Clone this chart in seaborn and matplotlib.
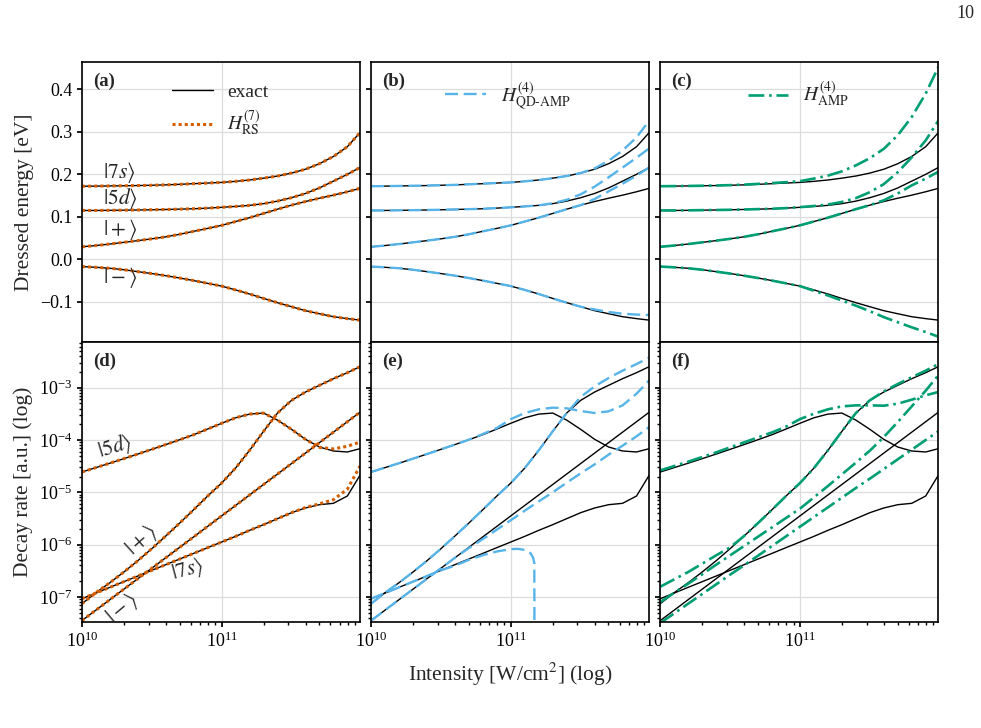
import numpy as np
import pandas as pd
import matplotlib
matplotlib.use("Agg")
import matplotlib.pyplot as plt
from matplotlib.lines import Line2D
import seaborn as sns

# ---------------- data ----------------
# log10 of intensity [W/cm^2]
LOGI = [10.0, 10.1, 10.2, 10.3, 10.4, 10.5, 10.6, 10.7, 10.8, 10.9, 11.0,
        11.1, 11.2, 11.3, 11.4, 11.5, 11.6, 11.7, 11.8, 11.9, 11.99]

# Dressed energies [eV] -- exact
E_7S = [0.172, 0.1723, 0.1727, 0.1731, 0.1736, 0.1743, 0.1752, 0.1765, 0.178, 0.1795, 0.181,
        0.1835, 0.1867, 0.191, 0.196, 0.203, 0.212, 0.225, 0.242, 0.265, 0.298]
E_5D = [0.115, 0.115, 0.1153, 0.1157, 0.1161, 0.1166, 0.1173, 0.1181, 0.119, 0.1205, 0.1224,
        0.1245, 0.127, 0.131, 0.137, 0.145, 0.155, 0.168, 0.184, 0.200, 0.216]
E_PLUS = [0.0295, 0.0325, 0.036, 0.040, 0.044, 0.0483, 0.053, 0.059, 0.066, 0.0728, 0.080,
          0.089, 0.098, 0.108, 0.118, 0.1275, 0.136, 0.1438, 0.151, 0.159, 0.167]
E_MINUS = [-0.017, -0.0188, -0.021, -0.0245, -0.029, -0.0335, -0.0385, -0.044, -0.050, -0.0565, -0.063,
           -0.072, -0.0816, -0.092, -0.102, -0.1115, -0.1208, -0.128, -0.135, -0.1395, -0.143]

# H_RS^(7) (coincides with exact in energy)
RS_E_7S = list(E_7S)
RS_E_5D = list(E_5D)
RS_E_PLUS = list(E_PLUS)
RS_E_MINUS = list(E_MINUS)

# H_QD-AMP^(4)
QD_E_7S = [0.172, 0.1723, 0.1727, 0.1731, 0.1736, 0.1743, 0.1752, 0.1765, 0.178, 0.1795, 0.181,
           0.1835, 0.1867, 0.191, 0.196, 0.203, 0.214, 0.232, 0.256, 0.287, 0.326]
QD_E_5D = [0.115, 0.115, 0.1153, 0.1157, 0.1161, 0.1166, 0.1173, 0.1181, 0.119, 0.1205, 0.1224,
           0.1245, 0.127, 0.132, 0.140, 0.153, 0.171, 0.193, 0.216, 0.239, 0.261]
QD_E_PLUS = [0.0295, 0.0325, 0.036, 0.040, 0.044, 0.0483, 0.053, 0.059, 0.066, 0.0728, 0.080,
             0.089, 0.098, 0.108, 0.118, 0.1275, 0.142, 0.160, 0.178, 0.197, 0.216]
QD_E_MINUS = [-0.017, -0.0188, -0.021, -0.0245, -0.029, -0.0335, -0.0385, -0.044, -0.050, -0.0565, -0.063,
              -0.072, -0.0816, -0.092, -0.102, -0.1115, -0.118, -0.124, -0.128, -0.130, -0.131]

# H_AMP^(4)
AMP_E_7S = [0.172, 0.1723, 0.1727, 0.1731, 0.1737, 0.1746, 0.1758, 0.1775, 0.1795, 0.1815, 0.184,
            0.190, 0.197, 0.207, 0.221, 0.238, 0.260, 0.292, 0.335, 0.390, 0.452]
AMP_E_5D = [0.115, 0.115, 0.1153, 0.1157, 0.1161, 0.1166, 0.1173, 0.1181, 0.119, 0.1205, 0.1228,
            0.1255, 0.129, 0.135, 0.144, 0.158, 0.177, 0.205, 0.240, 0.280, 0.326]
AMP_E_PLUS = [0.0295, 0.0325, 0.036, 0.040, 0.044, 0.0483, 0.053, 0.059, 0.066, 0.0728, 0.080,
              0.089, 0.098, 0.108, 0.118, 0.1275, 0.139, 0.155, 0.174, 0.190, 0.206]
AMP_E_MINUS = [-0.017, -0.0188, -0.021, -0.0245, -0.029, -0.0335, -0.0385, -0.044, -0.050, -0.0565, -0.063,
               -0.074, -0.085, -0.097, -0.109, -0.122, -0.136, -0.148, -0.160, -0.171, -0.182]

# Decay rates, log10 [a.u.] -- exact
G_5D = [-4.611, -4.527, -4.443, -4.356, -4.268, -4.178, -4.087, -3.994, -3.898, -3.79, -3.68,
        -3.575, -3.505, -3.485, -3.62, -3.796, -3.987, -4.134, -4.21, -4.229, -4.166]
G_PLUS = [-7.127, -6.917, -6.726, -6.522, -6.306, -6.076, -5.834, -5.586, -5.331, -5.07, -4.822,
          -4.535, -4.197, -3.834, -3.484, -3.242, -3.083, -2.955, -2.828, -2.713, -2.599]
G_MINUS = [-7.45, -7.25, -7.05, -6.85, -6.65, -6.45, -6.25, -6.05, -5.85, -5.65, -5.45,
           -5.25, -5.05, -4.85, -4.65, -4.45, -4.25, -4.05, -3.85, -3.65, -3.47]
G_7S = [-7.032, -6.924, -6.815, -6.707, -6.599, -6.49, -6.382, -6.274, -6.166, -6.057, -5.949,
        -5.841, -5.726, -5.618, -5.503, -5.389, -5.299, -5.236, -5.21, -5.07, -4.675]

# H_RS^(7)
RS_G_5D = [-4.611, -4.527, -4.443, -4.356, -4.268, -4.178, -4.087, -3.994, -3.898, -3.79, -3.68,
           -3.575, -3.505, -3.485, -3.62, -3.796, -3.987, -4.14, -4.17, -4.12, -4.04]
RS_G_PLUS = list(G_PLUS)
RS_G_MINUS = list(G_MINUS)
RS_G_7S = [-7.032, -6.924, -6.815, -6.707, -6.599, -6.49, -6.382, -6.274, -6.166, -6.057, -5.949,
           -5.841, -5.726, -5.618, -5.503, -5.389, -5.29, -5.22, -5.14, -4.94, -4.50]

# H_QD-AMP^(4)
QD_G_5D = [-4.611, -4.527, -4.443, -4.356, -4.268, -4.178, -4.087, -3.994, -3.885, -3.771, -3.60,
           -3.484, -3.414, -3.382, -3.395, -3.446, -3.484, -3.452, -3.338, -3.115, -2.86]
QD_G_PLUS = [-7.127, -6.917, -6.726, -6.522, -6.306, -6.076, -5.834, -5.586, -5.331, -5.07, -4.822,
             -4.535, -4.197, -3.834, -3.484, -3.178, -2.975, -2.815, -2.675, -2.548, -2.427]
QD_G_MINUS = [-7.45, -7.25, -7.05, -6.85, -6.65, -6.45, -6.25, -6.064, -5.892, -5.713, -5.532,
              -5.35, -5.172, -5.0, -4.815, -4.637, -4.465, -4.28, -4.108, -3.93, -3.752]
QD_7S_LOGI = [10.0, 10.1, 10.2, 10.3, 10.4, 10.5, 10.6, 10.7, 10.8, 10.9, 11.0,
              11.05, 11.1, 11.14, 11.16, 11.168, 11.17]
QD_G_7S = [-7.032, -6.924, -6.815, -6.707, -6.599, -6.49, -6.40, -6.29, -6.20, -6.13, -6.085,
           -6.08, -6.10, -6.16, -6.25, -6.35, -9.0]

# H_AMP^(4)
AMP_G_5D = [-4.58, -4.497, -4.414, -4.325, -4.236, -4.14, -4.045, -3.949, -3.854, -3.745, -3.60,
            -3.497, -3.414, -3.357, -3.338, -3.338, -3.344, -3.306, -3.229, -3.146, -3.083]
AMP_G_PLUS = [-6.803, -6.662, -6.522, -6.363, -6.204, -6.051, -5.834, -5.586, -5.331, -5.07, -4.822,
              -4.535, -4.197, -3.834, -3.484, -3.242, -3.07, -2.93, -2.80, -2.675, -2.548]
AMP_G_7S = [-7.096, -6.917, -6.745, -6.567, -6.382, -6.204, -6.025, -5.847, -5.669, -5.49, -5.312,
            -5.096, -4.879, -4.656, -4.433, -4.204, -3.943, -3.656, -3.357, -3.057, -2.764]
AMP_G_MINUS = [-7.497, -7.312, -7.127, -6.943, -6.758, -6.573, -6.395, -6.21, -6.025, -5.841, -5.656,
               -5.471, -5.287, -5.102, -4.917, -4.739, -4.554, -4.369, -4.185, -4.0, -3.834]

PANEL_LABELS = ["(a)", "(b)", "(c)", "(d)", "(e)", "(f)"]
LEGEND_LABELS = ["exact", r"$H_{\mathrm{RS}}^{(7)}$",
                 r"$H_{\mathrm{QD\text{-}AMP}}^{(4)}$", r"$H_{\mathrm{AMP}}^{(4)}$"]

# ---------------- style ----------------
sns.set_theme(style="ticks")
plt.rcParams["font.family"] = ["Liberation Serif", "DejaVu Serif"]
plt.rcParams["mathtext.fontset"] = "stix"
plt.rcParams.update({
    "axes.linewidth": 1.2,
    "axes.edgecolor": "black",
    "xtick.direction": "out",
    "ytick.direction": "out",
    "xtick.major.size": 3.5,
    "ytick.major.size": 3.5,
    "xtick.minor.size": 2.0,
    "ytick.minor.size": 2.0,
    "xtick.color": "black",
    "ytick.color": "black",
    "xtick.labelsize": 13,
    "ytick.labelsize": 13,
    "axes.unicode_minus": True,
})

C_EXACT = "black"
C_RS = "#D55E00"
C_QD = "#56B4E9"
C_AMP = "#009E73"
LS_RS = (0, (1.0, 1.0))
LS_QD = (0, (5.5, 2.4))
LS_AMP = (0, (6.0, 1.8, 1.0, 1.8))

fig = plt.figure(figsize=(9.81, 7.28), dpi=100)
gs = fig.add_gridspec(2, 3, left=82 / 981, right=938 / 981, top=1 - 62 / 728,
                      bottom=1 - 622 / 728, hspace=0.0, wspace=0.0414)
axes = [[fig.add_subplot(gs[r, c]) for c in range(3)] for r in range(2)]

XMIN, XMAX = 1e10, 10 ** 11.988


def draw(ax, logi, vals, color, ls, lw, log=False):
    x = 10.0 ** np.asarray(logi, dtype=float)
    v = np.asarray(vals, dtype=float)
    y = 10.0 ** v if log else v
    df = pd.DataFrame({"I": x, "v": y})
    sns.lineplot(data=df, x="I", y="v", ax=ax, color=color, linestyle=ls,
                 linewidth=lw, sort=False, estimator=None, legend=False)


exact_E = [E_7S, E_5D, E_PLUS, E_MINUS]
exact_G = [G_7S, G_5D, G_PLUS, G_MINUS]
approx_E = [
    ([RS_E_7S, RS_E_5D, RS_E_PLUS, RS_E_MINUS], C_RS, LS_RS, 2.2),
    ([QD_E_7S, QD_E_5D, QD_E_PLUS, QD_E_MINUS], C_QD, LS_QD, 1.7),
    ([AMP_E_7S, AMP_E_5D, AMP_E_PLUS, AMP_E_MINUS], C_AMP, LS_AMP, 1.9),
]
approx_G = [
    ([(LOGI, RS_G_7S), (LOGI, RS_G_5D), (LOGI, RS_G_PLUS), (LOGI, RS_G_MINUS)], C_RS, LS_RS, 2.2),
    ([(QD_7S_LOGI, QD_G_7S), (LOGI, QD_G_5D), (LOGI, QD_G_PLUS), (LOGI, QD_G_MINUS)], C_QD, LS_QD, 1.7),
    ([(LOGI, AMP_G_7S), (LOGI, AMP_G_5D), (LOGI, AMP_G_PLUS), (LOGI, AMP_G_MINUS)], C_AMP, LS_AMP, 1.9),
]

for c in range(3):
    axt = axes[0][c]
    axb = axes[1][c]
    axt.set_xscale("log")
    axb.set_xscale("log")
    axb.set_yscale("log")
    for ser in exact_E:
        draw(axt, LOGI, ser, C_EXACT, "-", 1.0)
    sers, col, ls, lw = approx_E[c]
    for ser in sers:
        draw(axt, LOGI, ser, col, ls, lw)
    for ser in exact_G:
        draw(axb, LOGI, ser, C_EXACT, "-", 1.0, log=True)
    sers, col, ls, lw = approx_G[c]
    for lg, ser in sers:
        draw(axb, lg, ser, col, ls, lw, log=True)

for r in range(2):
    for c in range(3):
        ax = axes[r][c]
        ax.set_xlim(XMIN, XMAX)
        ax.set_xlabel("")
        ax.set_ylabel("")
        ax.grid(True, which="major", color="#dcdcdc", linewidth=0.9)
        ax.set_axisbelow(True)
        for s in ax.spines.values():
            s.set_visible(True)
            s.set_color("black")
            s.set_linewidth(1.2)
        if r == 0:
            ax.set_ylim(-0.1945, 0.4643)
            ax.set_yticks([-0.1, 0.0, 0.1, 0.2, 0.3, 0.4])
            ax.tick_params(axis="x", which="both", bottom=False, labelbottom=False)
        else:
            ax.set_ylim(10 ** -7.478, 10 ** -2.127)
            ax.set_xticks([1e10, 1e11])
        if c > 0:
            ax.tick_params(axis="y", which="both", labelleft=False)
        ax.text(0.04, 0.93, PANEL_LABELS[3 * r + c], transform=ax.transAxes,
                fontsize=13.5, fontweight="bold", ha="left", va="center")

axes[0][0].set_yticklabels(["\u22120.1", "0.0", "0.1", "0.2", "0.3", "0.4"])

# legends
leg_kw = dict(frameon=False, fontsize=14, loc="upper left", borderpad=0.0,
              borderaxespad=0.0, handlelength=2.1, handletextpad=0.75, labelspacing=0.45)
h_exact = Line2D([], [], color=C_EXACT, lw=1.0)
h_rs = Line2D([], [], color=C_RS, lw=2.2, linestyle=LS_RS)
h_qd = Line2D([], [], color=C_QD, lw=1.7, linestyle=LS_QD)
h_amp = Line2D([], [], color=C_AMP, lw=1.9, linestyle=LS_AMP)
axes[0][0].legend([h_exact, h_rs], LEGEND_LABELS[:2], bbox_to_anchor=(0.324, 0.925), **leg_kw)
axes[0][1].legend([h_qd], [LEGEND_LABELS[2]], bbox_to_anchor=(0.267, 0.935), **leg_kw)
axes[0][2].legend([h_amp], [LEGEND_LABELS[3]], bbox_to_anchor=(0.314, 0.935), **leg_kw)

# state labels
axa = axes[0][0]
for txt, yy in [(r"$|7s\rangle$", 0.604), (r"$|5d\rangle$", 0.514),
                (r"$|+\rangle$", 0.40), (r"$|-\rangle$", 0.232)]:
    axa.text(0.075, yy, txt, transform=axa.transAxes, fontsize=15.5, ha="left", va="center")
axd = axes[1][0]
for txt, xx, yy, rot in [(r"$|5d\rangle$", 0.119, 0.625, 17), (r"$|+\rangle$", 0.212, 0.293, 42),
                         (r"$|7s\rangle$", 0.381, 0.186, 15), (r"$|-\rangle$", 0.144, 0.05, 40)]:
    axd.text(xx, yy, txt, transform=axd.transAxes, fontsize=15.5, ha="center", va="center",
             rotation=rot, rotation_mode="anchor")

axes[0][0].set_ylabel("Dressed energy [eV]", fontsize=15.5)
axes[1][0].set_ylabel("Decay rate [a.u.] (log)", fontsize=15.5)
fig.text((82 + 938) / 2 / 981, 1 - 674 / 728, r"Intensity [W/cm$^2$] (log)",
         fontsize=15.5, ha="center", va="center")
fig.text(974 / 981, 1 - 14 / 728, "10", fontsize=13, ha="right", va="center")

fig.savefig("out.png", dpi=100)
